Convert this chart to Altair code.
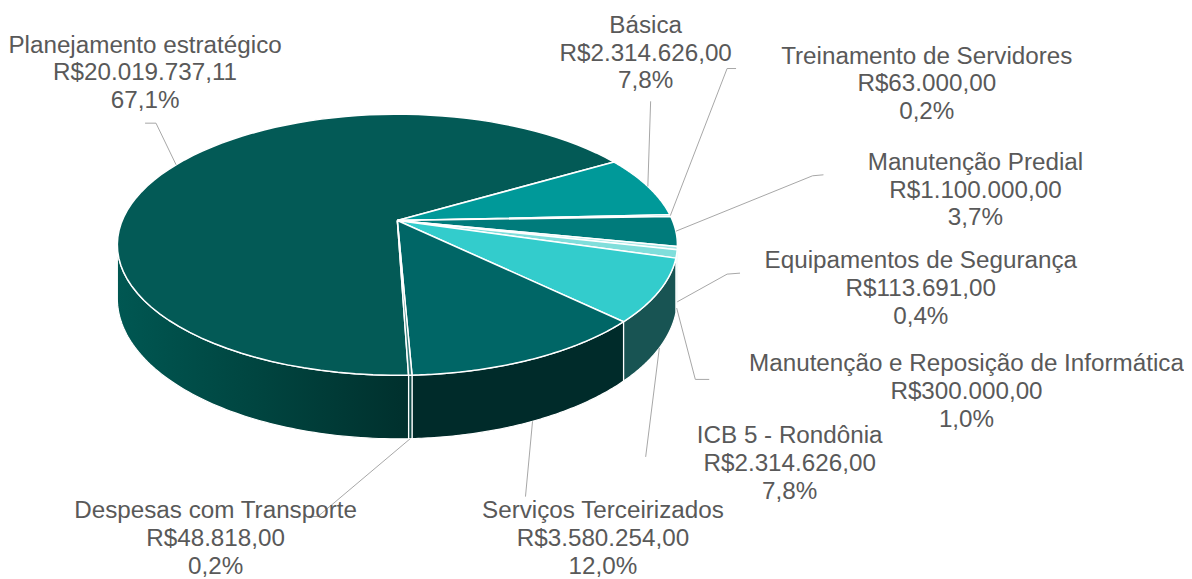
import math
import altair as alt
import pandas as pd

# ---------------- data ----------------
CATEGORIES = [
    "Planejamento estratégico",
    "Básica",
    "Treinamento de Servidores",
    "Manutenção Predial",
    "Equipamentos de Segurança",
    "Manutenção e Reposição de Informática",
    "ICB 5 - Rondônia",
    "Serviços Terceirizados",
    "Despesas com Transporte",
]
VALUES = [20019737.11, 2314626.00, 63000.00, 1100000.00, 113691.00,
          300000.00, 2314626.00, 3580254.00, 48818.00]

# ---------------- styles ----------------
TOP_COLORS = ["#035A56", "#009999", "#5CC6C6", "#007B7B", "#A8E8E6",
              "#80DEDB", "#33CCCC", "#006666", "#2F7A76"]
WALL_COLORS = ["#00433F", "#006B6B", "#3E8C8C", "#005454", "#5E9C9A",
               "#4F9896", "#185453", "#002B2A", "#0F4A47"]

# ---------------- layout (label anchors = first text line, leader elbows) ----------------
LABEL_XY = [(146, 44), (650, 24), (933, 55), (982, 162), (927, 261),
            (973, 365), (795, 437), (607, 513), (217, 513)]
LEADER_XY = [((157, 122), (146, 122)), ((655, 100), (655, 100)),
             ((732, 67), (741, 67)), ((818, 175), (829, 174)),
             ((732, 274), (745, 273)), ((700, 380), (714, 380)),
             ((650, 458), (650, 458)), ((529, 498), (529, 498)),
             ((320, 518), (310, 518))]

# pie geometry (perspective ellipse)
CX, CY = 400, 220
RX, RY = 277, 126.9
K = 0.186
DEPTH = 52
START = 178.1
N = 80
V0 = math.degrees(math.acos(-K))
V1 = 360 - V0

total = sum(VALUES)


def brl(v):
    s = f"{v:,.2f}"
    return "R$" + s.replace(",", "#").replace(".", ",").replace("#", ".")


def pct(v):
    return f"{v / total * 100:.1f}".replace(".", ",") + "%"


df = pd.DataFrame({
    "name": CATEGORIES,
    "value": VALUES,
    "ord": list(range(len(CATEGORIES))),
    "lines": [[c, brl(v), pct(v)] for c, v in zip(CATEGORIES, VALUES)],
    "lx": [p[0] for p in LABEL_XY],
    "ly": [p[1] for p in LABEL_XY],
    "e1x": [p[0][0] for p in LEADER_XY],
    "e1y": [p[0][1] for p in LEADER_XY],
    "e2x": [p[1][0] for p in LEADER_XY],
    "e2y": [p[1][1] for p in LEADER_XY],
})

W, H = 1184, 571
X = alt.X("px:Q", scale=alt.Scale(domain=[8, 8 + W], nice=False, zero=False), axis=None)
Y = alt.Y("py:Q", scale=alt.Scale(domain=[8, 8 + H], nice=False, zero=False, reverse=True), axis=None)

base = (
    alt.Chart(df)
    .transform_joinaggregate(total="sum(value)")
    .transform_window(cum="sum(value)", sort=[alt.SortField("ord", order="ascending")], frame=[None, 0])
    .transform_calculate(a0=f"{START} + 360*(datum.cum - datum.value)/datum.total")
    .transform_calculate(a1=f"{START} + 360*datum.cum/datum.total")
    .transform_calculate(am="(datum.a0 + datum.a1)/2")
)

DEN = f"(1 + {K}*cos(datum.ang))"
RIMX = f"({CX} + {RX}*sin(datum.ang)/{DEN})"
RIMY = f"({CY} - {RY}*cos(datum.ang)/{DEN})"

# ---- top faces ----
top = (
    base.transform_calculate(idx=f"sequence(0, {N + 3})")
    .transform_flatten(["idx"])
    .transform_calculate(apex=f"datum.idx == 0 || datum.idx == {N + 2}")
    .transform_calculate(ang=f"PI/180*(datum.a0 + (datum.a1 - datum.a0)*clamp((datum.idx - 1)/{N}, 0, 1))")
    .transform_calculate(px=f"datum.apex ? {CX} : {RIMX}")
    .transform_calculate(py=f"datum.apex ? {CY} : {RIMY}")
    .mark_line(filled=True, stroke="white", strokeWidth=1.5, strokeJoin="round")
    .encode(
        x=X, y=Y, order=alt.Order("idx:Q"), detail="name:N",
        color=alt.Color("name:N", scale=alt.Scale(domain=CATEGORIES, range=TOP_COLORS), legend=None),
    )
)

# ---- side walls (visible front part) ----
wall_base = (
    base.transform_calculate(b0a=f"max(datum.a0, {V0})")
    .transform_calculate(b1a=f"min(datum.a1, {V1})")
    .transform_calculate(b0b=f"max(datum.a0, {V0 + 360})")
    .transform_calculate(b1b=f"min(datum.a1, {V1 + 360})")
    .transform_calculate(useA="datum.b1a > datum.b0a")
    .transform_calculate(b0="datum.useA ? datum.b0a : datum.b0b")
    .transform_calculate(b1="datum.useA ? datum.b1a : datum.b1b")
    .transform_filter("datum.b1 > datum.b0")
    .transform_calculate(idx=f"sequence(0, {2 * N + 3})")
    .transform_flatten(["idx"])
    .transform_calculate(k=f"datum.idx <= {N} ? datum.idx : (datum.idx <= {2 * N + 1} ? {2 * N + 1} - datum.idx : 0)")
    .transform_calculate(bottom=f"datum.idx > {N} && datum.idx <= {2 * N + 1}")
    .transform_calculate(ang=f"PI/180*(datum.b0 + (datum.b1 - datum.b0)*datum.k/{N})")
    .transform_calculate(px=RIMX)
    .transform_calculate(py=f"{RIMY} + (datum.bottom ? {DEPTH}/{DEN} : 0)")
)

wall = wall_base.mark_line(filled=True, stroke="white", strokeWidth=1.2, strokeJoin="round").encode(
    x=X, y=Y, order=alt.Order("idx:Q"), detail="name:N",
    color=alt.Color("name:N", scale=alt.Scale(domain=CATEGORIES, range=WALL_COLORS), legend=None),
)

wall_grad = (
    wall_base.transform_filter(alt.datum.ord == 0)
    .mark_line(
        filled=True, stroke="white", strokeWidth=1.2, strokeJoin="round",
        fill=alt.Gradient(
            gradient="linear", x1=0, x2=1, y1=0, y2=0,
            stops=[alt.GradientStop(color="#005752", offset=0),
                   alt.GradientStop(color="#00443F", offset=0.5),
                   alt.GradientStop(color="#00302D", offset=1)],
        ),
    )
    .encode(x=X, y=Y, order=alt.Order("idx:Q"), detail="name:N")
)

# ---- leader lines ----
lead = (
    base.transform_calculate(idx="sequence(0, 3)")
    .transform_flatten(["idx"])
    .transform_calculate(front=f"(datum.am >= {V0} && datum.am <= {V1}) || (datum.am >= {V0 + 360} && datum.am <= {V1 + 360})")
    .transform_calculate(ang="PI/180*datum.am")
    .transform_calculate(ax=RIMX)
    .transform_calculate(ay=f"{RIMY} + (datum.front ? {DEPTH}/{DEN} : 0)")
    .transform_calculate(px="datum.idx == 0 ? datum.ax : (datum.idx == 1 ? datum.e1x : datum.e2x)")
    .transform_calculate(py="datum.idx == 0 ? datum.ay : (datum.idx == 1 ? datum.e1y : datum.e2y)")
    .mark_line(color="#A6A6A6", strokeWidth=1)
    .encode(x=X, y=Y, order=alt.Order("idx:Q"), detail="name:N")
)

# ---- labels ----
text = alt.Chart(df).mark_text(
    font="Liberation Sans", fontSize=24.4, lineHeight=28, color="#595959",
    align="center", baseline="middle",
).encode(
    x=alt.X("lx:Q", scale=alt.Scale(domain=[8, 8 + W], nice=False, zero=False), axis=None),
    y=alt.Y("ly:Q", scale=alt.Scale(domain=[8, 8 + H], nice=False, zero=False, reverse=True), axis=None),
    text=alt.Text("lines:N"),
)

chart = (
    alt.layer(wall, wall_grad, top, lead, text)
    .resolve_scale(color="independent")
    .properties(width=W, height=H, padding=0, autosize=alt.AutoSizeParams(type="none"))
    .configure_view(stroke=None)
)

chart.save("out.html", embed_options={"renderer": "svg", "actions": False})
